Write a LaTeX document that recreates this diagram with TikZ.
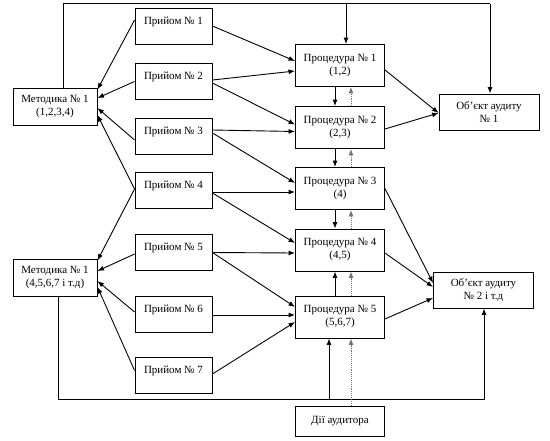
\documentclass[tikz,border=0pt]{standalone}
\usepackage{fontspec}
\setmainfont{Liberation Serif}
\usetikzlibrary{arrows.meta}
\begin{document}
\begin{tikzpicture}[x=1pt,y=-1pt,
  box/.style={draw,line width=0.9pt,rectangle,inner sep=0pt,align=center,font=\fontsize{11}{13}\selectfont},
  metbox/.style={box,minimum width=84pt,minimum height=37pt},
  prbox/.style={box,minimum width=77pt,minimum height=36pt,text height=8pt,text depth=12pt},
  procbox/.style={box,minimum width=89pt,minimum height=42pt},
  objbox/.style={box,minimum width=100pt,minimum height=36pt},
  arr/.style={line width=0.9pt,-{Latex[length=6.5pt,width=5pt]}},
  ln/.style={line width=0.9pt},
  dotarr/.style={arr,densely dotted,draw=black!55}]
\useasboundingbox (0,0) rectangle (550,440);
% nodes
\node[metbox] (m1) at (55,106.5) {Методика № 1\\(1,2,3,4)};
\node[metbox] (m2) at (55,277.5) {Методика № 1\\(4,5,6,7 і т.д)};
\node[prbox] (p1) at (173.5,26) {Прийом № 1};
\node[prbox] (p2) at (173.5,81.5) {Прийом № 2};
\node[prbox] (p3) at (173.5,136) {Прийом № 3};
\node[prbox] (p4) at (173.5,190.5) {Прийом № 4};
\node[prbox] (p5) at (173.5,252.5) {Прийом № 5};
\node[prbox] (p6) at (173.5,314) {Прийом № 6};
\node[prbox] (p7) at (173.5,375.5) {Прийом № 7};
\node[procbox] (r1) at (340,65.5) {Процедура № 1\\(1,2)};
\node[procbox] (r2) at (340,127.5) {Процедура № 2\\(2,3)};
\node[procbox] (r3) at (340,188.5) {Процедура № 3\\(4)};
\node[procbox] (r4) at (340,250) {Процедура № 4\\(4,5)};
\node[procbox] (r5) at (340,317) {Процедура № 5\\(5,6,7)};
\node[objbox] (o1) at (489,112) {Об’єкт аудиту\\№ 1};
\node[objbox] (o2) at (483.5,290) {Об’єкт аудиту\\№ 2 і т.д};
\node[box,minimum width=89pt,minimum height=30pt] (d) at (340,421) {Дії аудитора};
% top loop
\coordinate (tl) at (63,3.5);
\coordinate (tr) at (490,3.5);
\coordinate (tm) at (346,3.5);
\draw[ln] ([xshift=8pt]m1.north) -- (tl) -- (tr);
\draw[arr] (tr) -- (o1.north -| tr);
\draw[arr] (tm) -- (r1.north -| tm);
% bottom loop
\coordinate (bl) at (58,399.5);
\coordinate (br) at (484,399.5);
\coordinate (bm) at (329,399.5);
\draw[ln] ([xshift=3pt]m2.south) -- (bl) -- (br);
\draw[arr] (br) -- (o2.south -| br);
\draw[arr] (bm) -- (r5.south -| bm);
% priyom -> metodyka
\draw[arr] ([yshift=6pt]p1.west) -- ([yshift=-2pt]m1.north east);
\draw[arr] (p2.west) -- ([yshift=8.5pt]m1.east);
\draw[arr] ([yshift=-4pt]p3.west) -- ([yshift=-1.5pt]m1.east);
\draw[arr] ([yshift=1.5pt]p4.west) -- ([yshift=-8.5pt]m1.east);
\draw[arr] ([yshift=1.5pt]p4.west) -- ([yshift=-2pt]m2.north east);
\draw[arr] ([yshift=-1.5pt]p5.west) -- ([yshift=6.5pt]m2.east);
\draw[arr] ([yshift=2pt]p6.west) -- ([yshift=-3.5pt]m2.east);
\draw[arr] ([yshift=5pt]p7.west) -- ([yshift=-9.5pt]m2.east);
% priyom -> procedures
\draw[arr] (p1.east) -- ([yshift=4.5pt]r1.west);
\draw[arr] ([yshift=1.5pt]p2.east) -- ([yshift=-5.5pt]r1.west);
\draw[arr] ([yshift=-1.5pt]p2.east) -- ([yshift=3pt]r2.west);
\draw[arr] ([yshift=6pt]p3.east) -- ([yshift=-4pt]r2.west);
\draw[arr] ([yshift=3pt]p3.east) -- ([yshift=5.5pt]r3.west);
\draw[arr] ([yshift=-1.5pt]p4.east) -- ([yshift=-3.5pt]r3.west);
\draw[arr] ([yshift=-2.5pt]p4.east) -- ([yshift=7pt]r4.west);
\draw[arr] (p5.east) -- ([yshift=-3pt]r4.west);
\draw[arr] (p5.east) -- ([yshift=10pt]r5.west);
\draw[arr] ([yshift=-1pt]p6.east) -- ([yshift=2pt]r5.west);
\draw[arr] ([yshift=1.5pt]p7.east) -- ([yshift=-5pt]r5.west);
% procedures -> objects
\draw[arr] ([yshift=-4.5pt]r1.east) -- ([yshift=-1pt]o1.west);
\draw[arr] ([yshift=-1.5pt]r2.east) -- ([yshift=-1pt]o1.west);
\draw[arr] (r3.east) -- ([yshift=7pt]o2.west);
\draw[arr] ([yshift=-3pt]r4.east) -- ([yshift=3pt]o2.west);
\draw[arr] ([yshift=-2pt]r5.east) -- ([yshift=-8pt]o2.west);
% vertical links between procedures
\draw[arr] ([xshift=-5pt]r1.south) -- ([xshift=-5pt]r2.north);
\draw[arr] ([xshift=-5pt]r2.south) -- ([xshift=-5pt]r3.north);
\draw[arr] ([xshift=-5pt]r3.south) -- ([xshift=-5pt]r4.north);
\draw[arr] ([xshift=-5pt]r5.north) -- ([xshift=-5pt]r4.south);
\draw[dotarr] ([xshift=11pt]d.north) -- ([xshift=11pt]r5.south);
\draw[dotarr] ([xshift=11pt]r5.north) -- ([xshift=11pt]r4.south);
\draw[dotarr] ([xshift=11pt]r4.north) -- ([xshift=11pt]r3.south);
\draw[dotarr] ([xshift=11pt]r3.north) -- ([xshift=11pt]r2.south);
\draw[dotarr] ([xshift=11pt]r2.north) -- ([xshift=11pt]r1.south);
\end{tikzpicture}
\end{document}
